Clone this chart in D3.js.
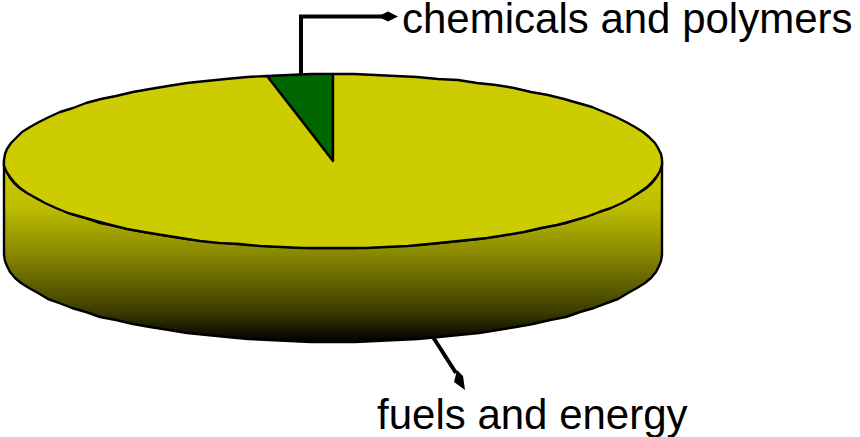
<!DOCTYPE html>
<html><head><meta charset="utf-8">
<script src="https://cdn.jsdelivr.net/npm/d3@7"></script>
<style>html,body{margin:0;padding:0;background:#fff}svg{display:block}text{font-family:"Liberation Sans",Arial,sans-serif;font-size:42px;fill:#000}</style>
</head><body><div id="c"></div>
<script>
const categories = ["chemicals and polymers", "fuels and energy"];
const shares = [3.2, 96.8];
const colors = ["#006600", "#cccc00"];

const W = 860, H = 437, cx = 333, cy = 161, rx = 329, ry = 87, depth = 94;
const svg = d3.select("#c").append("svg").attr("width", W).attr("height", H);
const defs = svg.append("defs");
const g = defs.append("linearGradient").attr("id", "side").attr("gradientUnits", "userSpaceOnUse")
  .attr("x1", 0).attr("x2", 0).attr("y1", cy).attr("y2", cy + ry + depth);
[[0, 1], [0.25, 0.93], [0.5, 0.68], [0.83, 0.3], [1, 0]].forEach(([o, k]) => {
  const v = Math.round(204 * k);
  g.append("stop").attr("offset", o).attr("stop-color", `rgb(${v},${v},0)`);
});

// projected outline, slightly quantised like the low-res original
const proj = (a, dy = 0) => [cx + rx * Math.sin(a), cy - ry * Math.cos(a) + dy];
const coarse = ([x, y]) => [Math.round(x), Math.round(y)];
const sample = (a0, a1, n) => d3.range(n + 1).map(i => a0 + (a1 - a0) * i / n);
const line = d3.line();

// side wall
const front = sample(Math.PI / 2, 3 * Math.PI / 2, 48);
const sidePts = [...front.map(a => coarse(proj(a, depth))), ...front.slice().reverse().map(a => coarse(proj(a)))];
svg.append("path").attr("d", line(sidePts) + "Z").attr("fill", "url(#side)")
  .attr("stroke", "#000").attr("stroke-width", 2.4).attr("stroke-linejoin", "round");

// top slices
const offset = 2 * Math.PI * shares[0] / d3.sum(shares);
const pie = d3.pie().sort(null).startAngle(-offset).endAngle(2 * Math.PI - offset);
svg.selectAll("path.slice").data(pie(shares)).join("path").attr("class", "slice")
  .attr("d", d => {
    const n = Math.max(3, Math.round((d.endAngle - d.startAngle) / 0.065));
    return line([[cx, cy], ...sample(d.startAngle, d.endAngle, n).map(a => coarse(proj(a)))]) + "Z";
  })
  .attr("fill", (d, i) => colors[i])
  .attr("stroke", "#000").attr("stroke-width", 2.4).attr("stroke-linejoin", "round");

// leader lines
const leaders = [
  { pts: [[301, 75], [301, 16.5], [385, 16.5]], tip: [[378, 16.5], [388, 11.5], [398, 16.5], [388, 21.5]] },
  { pts: [[433, 337], [456, 373]], tip: [[457, 370], [463, 376], [465, 390], [454, 382]] }
];
leaders.forEach(l => {
  svg.append("path").attr("d", line(l.pts)).attr("fill", "none").attr("stroke", "#000").attr("stroke-width", 4);
  svg.append("path").attr("d", line(l.tip) + "Z").attr("fill", "#000");
});

// labels
svg.append("text").attr("x", 402).attr("y", 33).text(categories[0]);
svg.append("text").attr("x", 377).attr("y", 429).text(categories[1]);
</script></body></html>
